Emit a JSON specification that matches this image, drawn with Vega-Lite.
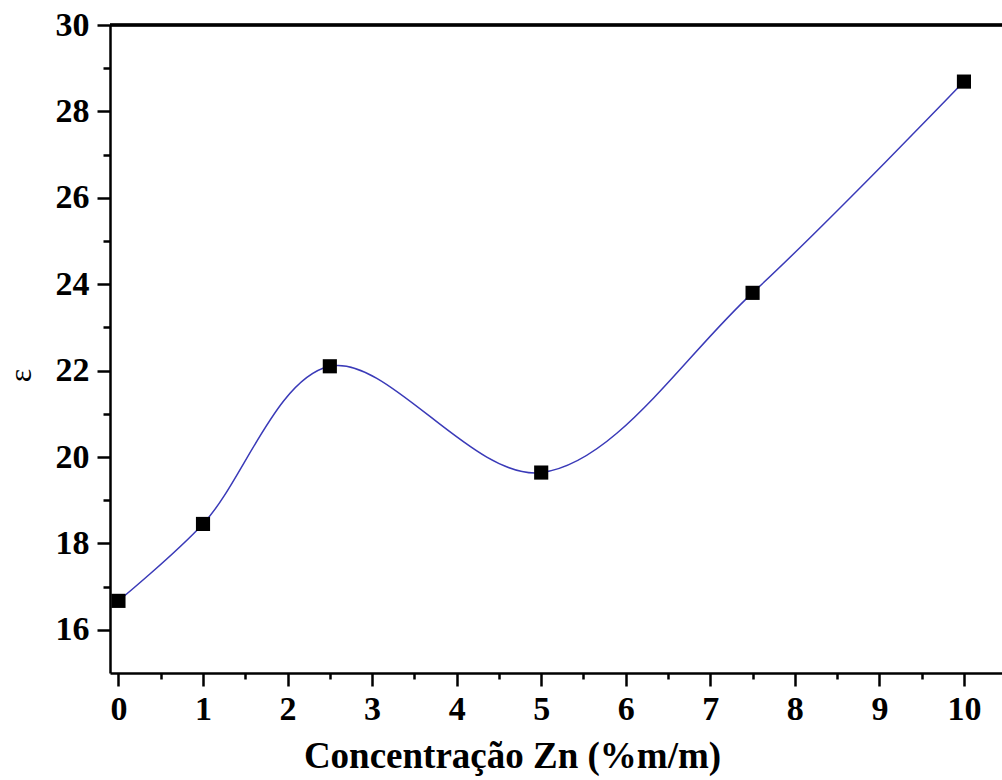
{
  "$schema": "https://vega.github.io/schema/vega-lite/v6.json",
  "autosize": {"type": "none"},
  "padding": {"left": 110, "top": 25, "right": 0, "bottom": 107},
  "width": 892,
  "height": 648,
  "background": "white",
  "config": {
    "view": {"stroke": null},
    "axis": {
      "labelFont": "Liberation Serif",
      "labelFontWeight": "bold",
      "labelFontSize": 34,
      "labelColor": "black",
      "titleFont": "Liberation Serif",
      "titleFontWeight": "bold",
      "titleFontSize": 37,
      "titleColor": "black",
      "domainColor": "black",
      "domainWidth": 2.5,
      "tickColor": "black",
      "tickWidth": 2.5,
      "grid": false
    }
  },
  "data": {
    "values": [
      {"x": 0, "y": 16.67},
      {"x": 1, "y": 18.45},
      {"x": 2.5, "y": 22.1},
      {"x": 5, "y": 19.64},
      {"x": 7.5, "y": 23.8},
      {"x": 10, "y": 28.69}
    ]
  },
  "layer": [
    {
      "mark": {"type": "rule", "color": "black", "strokeWidth": 2.5},
      "encoding": {"y": {"datum": 30, "type": "quantitative"}}
    },
    {
      "mark": {"type": "line", "interpolate": "catmull-rom", "color": "#3a3ab8", "strokeWidth": 1.5, "clip": true},
      "encoding": {
        "x": {
          "field": "x", "type": "quantitative",
          "scale": {"domain": [-0.1, 10.45], "nice": false, "zero": false},
          "axis": {
            "title": "Concentração Zn (%m/m)",
            "values": [0, 0.5, 1, 1.5, 2, 2.5, 3, 3.5, 4, 4.5, 5, 5.5, 6, 6.5, 7, 7.5, 8, 8.5, 9, 9.5, 10],
            "labelExpr": "datum.value % 1 === 0 ? format(datum.value, 'd') : ''",
            "tickSize": {"condition": {"test": "datum.value % 1 === 0", "value": 13}, "value": 6},
            "labelPadding": 6,
            "titleX": 402,
            "titlePadding": 12
          }
        },
        "y": {
          "field": "y", "type": "quantitative",
          "scale": {"domain": [15, 30], "nice": false, "zero": false},
          "axis": {
            "title": "ε",
            "titleFontWeight": "normal",
            "titleFontSize": 32,
            "titleBaseline": "middle",
            "titleX": -90,
            "titleY": 350,
            "values": [16, 17, 18, 19, 20, 21, 22, 23, 24, 25, 26, 27, 28, 29, 30],
            "labelExpr": "datum.value % 2 === 0 ? format(datum.value, 'd') : ''",
            "tickSize": {"condition": {"test": "datum.value % 2 === 0", "value": 13}, "value": 7},
            "labelPadding": 8
          }
        }
      }
    },
    {
      "mark": {"type": "point", "shape": "square", "filled": true, "color": "black", "size": 200, "opacity": 1},
      "encoding": {
        "x": {"field": "x", "type": "quantitative"},
        "y": {"field": "y", "type": "quantitative"}
      }
    }
  ]
}
